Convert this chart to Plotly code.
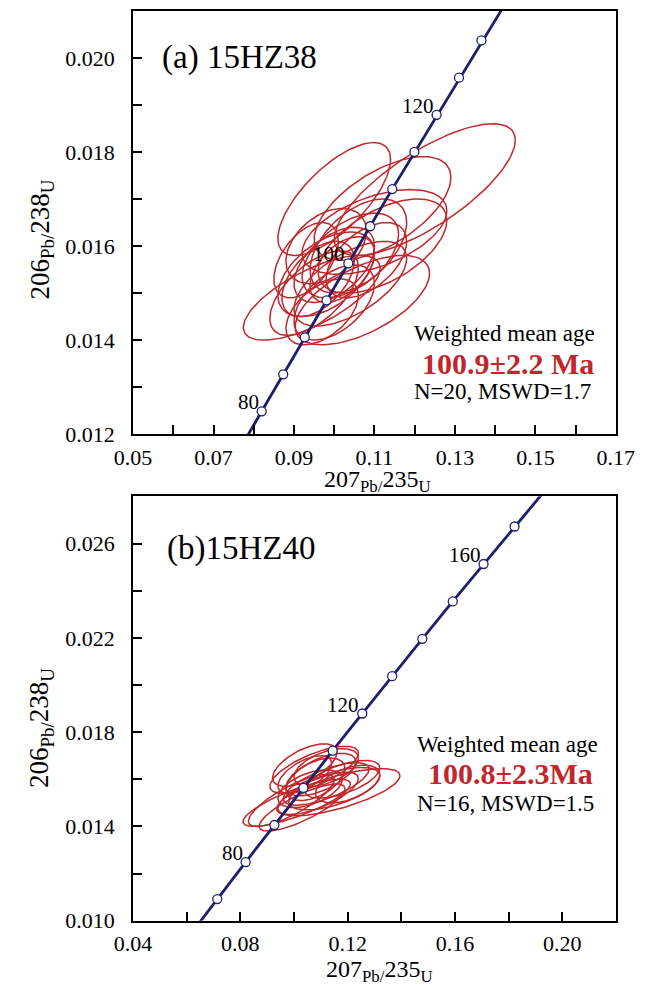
import numpy as np
import plotly.graph_objects as go

# ---------------- data ----------------
# Concordia reference points (age in Ma, 207Pb/235U, 206Pb/238U)
conc_age = [55, 60, 65, 70, 75, 80, 85, 90, 95, 100, 105, 110, 115, 120, 125, 130, 135, 140, 150, 160, 170, 180, 190]
conc_x = [0.05566, 0.06087, 0.06611, 0.07137, 0.07666, 0.08197, 0.08732, 0.09268, 0.09808, 0.10350, 0.10894,
          0.11442, 0.11992, 0.12545, 0.13101, 0.13659, 0.14219, 0.14785, 0.15919, 0.17068, 0.18225, 0.19394, 0.20576]
conc_y = [0.008568, 0.009351, 0.010134, 0.010918, 0.011702, 0.012487, 0.013273, 0.014059, 0.014846, 0.015633,
          0.016421, 0.017210, 0.018000, 0.018789, 0.019580, 0.020371, 0.021163, 0.021955, 0.023542, 0.025131,
          0.026722, 0.028316, 0.029913]

marks_a = [80, 85, 90, 95, 100, 105, 110, 115, 120, 125, 130]
labels_a = [80, 100, 120]
marks_b = [70, 80, 90, 100, 110, 120, 130, 140, 150, 160, 170]
labels_b = [80, 120, 160]

# Error ellipses: centre x, centre y, half-extent x, half-extent y, correlation
a_cx = [0.1225, 0.1000, 0.1120, 0.1100, 0.1120, 0.1040, 0.1000, 0.0980, 0.0960, 0.1020,
        0.1070, 0.0944, 0.0950, 0.1000, 0.1060, 0.0980, 0.1040, 0.0930, 0.1080, 0.0970]
a_cy = [0.01720, 0.01700, 0.01680, 0.01630, 0.01600, 0.01580, 0.01560, 0.01540, 0.01530, 0.01550,
        0.01485, 0.01490, 0.01500, 0.01480, 0.01600, 0.01600, 0.01520, 0.01570, 0.01570, 0.01460]
a_ax = [0.0225, 0.0140, 0.0170, 0.0180, 0.0160, 0.0120, 0.0100, 0.0120, 0.0090, 0.0080,
        0.0167, 0.0170, 0.0110, 0.0100, 0.0120, 0.0100, 0.0140, 0.0080, 0.0100, 0.0090]
a_ay = [0.00140, 0.00120, 0.00110, 0.00090, 0.00100, 0.00090, 0.00080, 0.00090, 0.00080, 0.00070,
        0.00095, 0.00090, 0.00090, 0.00080, 0.00100, 0.00080, 0.00090, 0.00080, 0.00080, 0.00070]
a_rho = [0.75, 0.70, 0.60, 0.50, 0.55, 0.50, 0.50, 0.50, 0.50, 0.50,
         0.60, 0.70, 0.60, 0.50, 0.50, 0.40, 0.60, 0.50, 0.50, 0.50]

b_cx = [0.1165, 0.1075, 0.1040, 0.1100, 0.1010, 0.1030, 0.1120, 0.1180, 0.1150, 0.1080,
        0.1060, 0.0990, 0.1120, 0.1200, 0.1040, 0.1090]
b_cy = [0.01545, 0.01640, 0.01660, 0.01620, 0.01500, 0.01480, 0.01580, 0.01600, 0.01560, 0.01600,
        0.01560, 0.01510, 0.01650, 0.01580, 0.01620, 0.01540]
b_ax = [0.0230, 0.0165, 0.0120, 0.0130, 0.0200, 0.0160, 0.0160, 0.0140, 0.0170, 0.0110,
        0.0120, 0.0160, 0.0120, 0.0120, 0.0100, 0.0150]
b_ay = [0.00100, 0.00100, 0.00090, 0.00090, 0.00100, 0.00100, 0.00090, 0.00080, 0.00090, 0.00090,
        0.00080, 0.00110, 0.00080, 0.00080, 0.00080, 0.00090]
b_rho = [0.70, 0.70, 0.60, 0.60, 0.80, 0.80, 0.70, 0.60, 0.60, 0.50,
         0.50, 0.80, 0.50, 0.50, 0.60, 0.70]

# ---------------- styling ----------------
FONT = "Liberation Serif"
RED = "#bf272c"
NAVY = "#1c206c"

fig = go.Figure()


def ellipse(cx, cy, ax, ay, rho, n=120):
    t = np.linspace(0, 2 * np.pi, n)
    x = cx + ax * np.cos(t)
    y = cy + ay * (rho * np.cos(t) + np.sqrt(1 - rho ** 2) * np.sin(t))
    return x, y


def add_panel(cxs, cys, axs, ays, rhos, marks, xa, ya):
    for cx, cy, ax, ay, r in zip(cxs, cys, axs, ays, rhos):
        ex, ey = ellipse(cx, cy, ax, ay, r)
        fig.add_trace(go.Scatter(x=ex, y=ey, mode="lines", line=dict(color=RED, width=1.5),
                                 xaxis=xa, yaxis=ya, showlegend=False, hoverinfo="skip"))
    fig.add_trace(go.Scatter(x=conc_x, y=conc_y, mode="lines", line=dict(color=NAVY, width=2.8),
                             xaxis=xa, yaxis=ya, showlegend=False, hoverinfo="skip"))
    mx = [conc_x[conc_age.index(a)] for a in marks]
    my = [conc_y[conc_age.index(a)] for a in marks]
    fig.add_trace(go.Scatter(x=mx, y=my, mode="markers",
                             marker=dict(size=9, color="white", line=dict(color=NAVY, width=1.3)),
                             xaxis=xa, yaxis=ya, showlegend=False, hoverinfo="skip"))


add_panel(a_cx, a_cy, a_ax, a_ay, a_rho, marks_a, "x", "y")
add_panel(b_cx, b_cy, b_ax, b_ay, b_rho, marks_b, "x2", "y2")

annotations = []
for labs, xr, yr in ((labels_a, "x", "y"), (labels_b, "x2", "y2")):
    for lab in labs:
        i = conc_age.index(lab)
        annotations.append(dict(x=conc_x[i], y=conc_y[i], xref=xr, yref=yr, text=str(lab), showarrow=False,
                                xanchor="right", yanchor="bottom", xshift=-1, yshift=-5,
                                font=dict(family=FONT, size=21, color="black")))

W, H = 665, 985


def txt(xp, yp, s, size, color="black", bold=False, angle=0, xanchor="center", yanchor="middle"):
    if bold:
        s = "<b>" + s + "</b>"
    annotations.append(dict(x=xp / W, y=1 - yp / H, xref="paper", yref="paper", text=s, showarrow=False,
                            xanchor=xanchor, yanchor=yanchor, textangle=angle,
                            font=dict(family=FONT, size=size, color=color)))


txt(150, 58, "(a) 15HZ38", 33, xanchor="left")
txt(515, 338, "Weighted mean age", 23)
txt(519, 368, "100.9±2.2 Ma", 30, color=RED, bold=True)
txt(513, 397, "N=20, MSWD=1.7", 23)

txt(155, 556, "(b)15HZ40", 33, xanchor="left")
txt(518, 754, "Weighted mean age", 23)
txt(521, 784, "100.8±2.3Ma", 30, color=RED, bold=True)
txt(516, 814, "N=16, MSWD=1.5", 23)

ytitle = "206<sub>Pb/</sub>238<sub>U</sub>"
xtitle = "207<sub>Pb/</sub>235<sub>U</sub>"
txt(24, 243, ytitle, 27, angle=-90)
txt(24, 738, ytitle, 27, angle=-90)
txt(380, 487, xtitle, 24)
txt(382, 967, xtitle, 24, yanchor="top")

fig.update_layout(annotations=annotations)

axis_common = dict(showline=True, linecolor="black", linewidth=2, mirror=True, showgrid=False,
                   zeroline=False, ticks="inside", ticklen=9, tickwidth=1.6, tickcolor="black",
                   tickfont=dict(family=FONT, size=22, color="black"))
minor_common = dict(ticks="inside", ticklen=9, tickwidth=1.6, tickcolor="black")

fig.update_layout(
    width=W, height=H, margin=dict(l=0, r=0, t=0, b=0),
    paper_bgcolor="white", plot_bgcolor="white",
    xaxis=dict(domain=[121 / W, 633 / W], range=[0.05, 0.17], tick0=0.05, dtick=0.02, tickformat=".2f",
               anchor="y", ticklabelstandoff=2, minor=dict(dtick=0.01, tick0=0.05, **minor_common), **axis_common),
    yaxis=dict(domain=[1 - 440 / H, 1 - 11 / H], range=[0.012, 0.021], tick0=0.012, dtick=0.002,
               tickformat=".3f", anchor="x", ticklabelstandoff=12,
               minor=dict(dtick=0.001, tick0=0.012, **minor_common), **axis_common),
    xaxis2=dict(domain=[121 / W, 633 / W], range=[0.04, 0.22], tick0=0.04, dtick=0.04, tickformat=".2f",
                anchor="y2", ticklabelstandoff=2, minor=dict(dtick=0.02, tick0=0.04, **minor_common), **axis_common),
    yaxis2=dict(domain=[1 - 933 / H, 1 - 503 / H], range=[0.010, 0.028], tick0=0.010, dtick=0.004,
                tickformat=".3f", anchor="x2", ticklabelstandoff=12,
                minor=dict(dtick=0.002, tick0=0.010, **minor_common), **axis_common),
)

fig.write_html("out.html")
